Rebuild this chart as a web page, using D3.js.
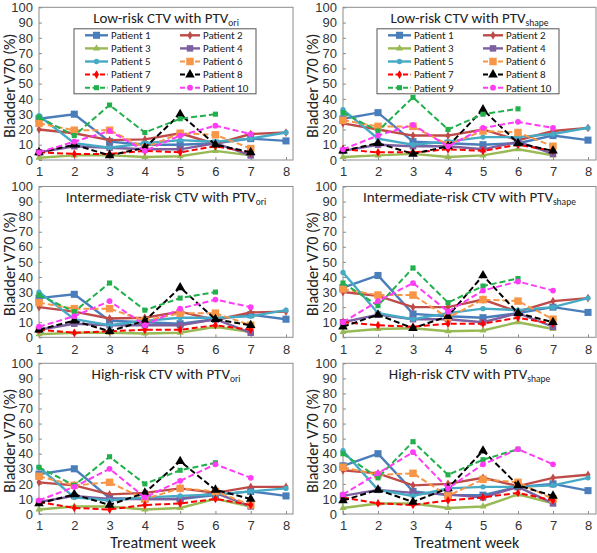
<!DOCTYPE html>
<html>
<head>
<meta charset="utf-8">
<script src="https://cdn.jsdelivr.net/npm/d3@7"></script>
<style>
  body { margin: 0; background: #fff; }
  svg { display: block; font-family: Carlito, Calibri, Lato, sans-serif; }
</style>
</head>
<body>
<svg width="597" height="553"></svg>
<script>
// weeks on the x axis
var weeks = [1, 2, 3, 4, 5, 6, 7, 8];
var patients = ['Patient 1', 'Patient 2', 'Patient 3', 'Patient 4', 'Patient 5',
  'Patient 6', 'Patient 7', 'Patient 8', 'Patient 9', 'Patient 10'];
var yTicks = [0, 10, 20, 30, 40, 50, 60, 70, 80, 90, 100];

// bladder V70 (%) per patient, one value per treatment week
var lowOri = [
  [27, 30, 12, 10, 10, 11, 14, 12.5],
  [20, 17.5, 13, 13.5, 17.5, 10.5, 17, 18],
  [1.5, 3, 3, 2, 2.5, 6, 3],
  [5, 9, 8, 7, 7, 11, 3],
  [29, 11, 8, 11, 13, 12, 14, 18],
  [24, 19.5, 19.5, 8, 17.5, 16.5, 7.5],
  [5, 4, 4, 6, 5, 9, 5],
  [5, 10, 3, 8, 30, 10, 5],
  [28, 16, 36, 18, 27, 30],
  [5, 12, 19, 6, 16, 22.5, 17]
];
var lowShape = [
  [27, 31, 12, 11, 10, 11, 16, 13],
  [24, 20, 16, 16, 20, 13, 19, 21],
  [2, 3, 4, 2, 3, 7, 3],
  [6, 10, 9, 9, 7, 12, 4],
  [33, 14, 10, 12, 15, 15, 17, 21],
  [26, 22, 22, 10, 19, 18, 9],
  [7, 5, 5, 7, 6, 10, 6],
  [6, 11, 4, 9, 33, 11, 6],
  [31, 19, 41, 20, 30, 33.5],
  [7, 16, 23, 9, 21, 25, 21]
];
var intOri = [
  [26, 28.5, 11, 10, 9, 12, 15, 12],
  [20, 17, 12.5, 13, 17, 11.5, 16.5, 17],
  [2, 3, 3, 2.5, 3, 7, 3.5],
  [5, 9, 8, 8, 8, 12, 3],
  [30, 12, 8, 11, 13, 13, 14, 18],
  [23, 19, 19, 11, 16, 16, 8],
  [5, 3, 4, 5, 5, 8, 5],
  [5, 11, 4, 11, 33, 12, 8],
  [28, 17, 36, 18, 26, 30],
  [7, 14, 24, 8, 19, 25, 20]
];
var intShape = [
  [33, 41, 15.5, 14, 13, 16, 20, 16.5],
  [30, 27.5, 20, 20, 25, 17, 24, 26],
  [3.5, 5.5, 6, 4, 4.5, 10, 5.5],
  [10, 15, 12, 12, 10, 16, 7],
  [43, 16, 12, 16, 19, 18, 20, 26],
  [32, 28, 28, 13, 25, 24, 12],
  [10, 8, 7, 9, 9, 13, 9],
  [7, 15, 6, 14, 41, 16, 10],
  [36, 21, 46, 23, 34, 39],
  [10, 24, 36, 17, 31, 37, 31]
];
var highOri = [
  [26.5, 30, 10.5, 10, 10, 12.5, 15, 12],
  [21, 19, 13, 14, 17, 14, 18, 18],
  [3, 5, 5, 3, 4, 10, 5],
  [8, 12, 10, 10, 10, 14, 5],
  [31, 11, 9, 11, 12, 13, 15, 17],
  [25, 19, 21, 10, 17, 15, 6],
  [8, 4, 3, 6, 7, 10, 6],
  [7, 13, 6, 14, 35, 16, 10],
  [31, 19, 38, 20, 29, 34],
  [9, 18, 30, 11, 22, 33, 24]
];
var highShape = [
  [32, 40, 15, 12.5, 12.5, 18, 20, 15.5],
  [29, 27, 19, 20, 24, 18.5, 24, 26],
  [4, 7, 7, 4, 5, 13, 7],
  [12, 16, 14, 13, 11, 18, 7],
  [42, 16, 12, 17, 18, 18, 19, 24],
  [31, 26, 27, 12, 23, 21, 10],
  [11, 7, 6, 9, 11, 14, 9],
  [9, 16, 8, 17, 42, 19, 12],
  [40, 24, 48, 26, 36, 43],
  [13, 27, 41, 17, 33, 43, 33]
];

var colors = ['#4a7ebb', '#be4b48', '#98b954', '#7d60a0', '#46aac5',
  '#f79646', '#ff0000', '#000000', '#21b04b', '#ff3cf5'];
var dashed = [false, false, false, false, false, true, true, true, true, true];
var shapes = [d3.symbolSquare, d3.symbolDiamond, d3.symbolTriangle, d3.symbolSquare, d3.symbolCircle,
  d3.symbolSquare, d3.symbolDiamond, d3.symbolTriangle, d3.symbolSquare, d3.symbolCircle];
var sizes = [50, 22, 22, 42, 22, 56, 22, 40, 26, 26];

var svg = d3.select('svg');

var cols = [{ left: 39, last: 286, right: 293, lab: 9 }, { left: 343, last: 588, right: 596, lab: 312 }];
var rows = [{ top: 7.3, bottom: 160 }, { top: 186.5, bottom: 337.3 }, { top: 363.3, bottom: 514 }];

var panels = [
  { data: lowOri, title: 'Low-risk CTV with PTV', sub: 'ori', c: 0, r: 0, legend: true },
  { data: lowShape, title: 'Low-risk CTV with PTV', sub: 'shape', c: 1, r: 0, legend: true },
  { data: intOri, title: 'Intermediate-risk CTV with PTV', sub: 'ori', c: 0, r: 1 },
  { data: intShape, title: 'Intermediate-risk CTV with PTV', sub: 'shape', c: 1, r: 1 },
  { data: highOri, title: 'High-risk CTV with PTV', sub: 'ori', c: 0, r: 2 },
  { data: highShape, title: 'High-risk CTV with PTV', sub: 'shape', c: 1, r: 2 }
];

panels.forEach(function (p) {
  var col = cols[p.c], row = rows[p.r];
  var x = d3.scaleLinear().domain([1, 8]).range([col.left, col.last]);
  var y = d3.scaleLinear().domain([0, 100]).range([row.bottom, row.top]);
  var g = svg.append('g');

  // frame
  g.append('rect')
    .attr('x', col.left).attr('y', row.top)
    .attr('width', col.right - col.left).attr('height', row.bottom - row.top)
    .attr('fill', 'none').attr('stroke', '#8c8c8c').attr('stroke-width', 1);

  // y axis (ticks inside)
  var ya = g.append('g').attr('transform', 'translate(' + col.left + ',0)')
    .call(d3.axisLeft(y).tickValues(yTicks).tickSizeInner(-3).tickSizeOuter(0).tickPadding(6));
  ya.select('.domain').remove();
  ya.selectAll('line').attr('stroke', '#8c8c8c');
  ya.selectAll('text').attr('font-size', 13).attr('font-family', null).attr('fill', '#333');

  // x axis
  var xa = g.append('g').attr('transform', 'translate(0,' + row.bottom + ')')
    .call(d3.axisBottom(x).tickValues(weeks).tickFormat(d3.format('d')).tickSizeInner(-3).tickSizeOuter(0).tickPadding(7));
  xa.select('.domain').remove();
  xa.selectAll('line').attr('stroke', '#8c8c8c');
  xa.selectAll('text').attr('font-size', 13).attr('font-family', null).attr('fill', '#333');

  // y label
  g.append('text')
    .attr('transform', 'translate(' + col.lab + ',' + ((row.top + row.bottom) / 2 + 2) + ') rotate(-90)')
    .attr('text-anchor', 'middle').attr('dy', '0.35em')
    .attr('font-size', 16).attr('fill', '#222')
    .text('Bladder V70 (%)');

  // title
  var t = g.append('text')
    .attr('x', (col.left + col.right) / 2).attr('y', row.top + 15.5)
    .attr('text-anchor', 'middle').attr('font-size', 15).attr('fill', '#222');
  t.append('tspan').text(p.title);
  t.append('tspan').attr('font-size', 9.5).attr('dy', 3).text(p.sub);

  // series
  var line = d3.line().x(function (d, i) { return x(weeks[i]); }).y(function (d) { return y(d); });
  p.data.forEach(function (vals, k) {
    g.append('path').datum(vals)
      .attr('d', line)
      .attr('fill', 'none')
      .attr('stroke', colors[k])
      .attr('stroke-width', dashed[k] ? 2 : 2.4)
      .attr('stroke-dasharray', dashed[k] ? '6,3' : null);
    g.selectAll(null).data(vals).enter().append('path')
      .attr('d', d3.symbol().type(shapes[k]).size(sizes[k]))
      .attr('transform', function (d, i) { return 'translate(' + x(weeks[i]) + ',' + y(d) + ')'; })
      .attr('fill', colors[k]);
  });

  // legend
  if (p.legend) {
    var lx = col.left + (p.c === 0 ? 35 : 34), ly = row.top + 21.5;
    g.append('rect').attr('x', lx).attr('y', ly).attr('width', 182).attr('height', 65)
      .attr('fill', '#fff').attr('stroke', '#555').attr('stroke-width', 1);
    patients.forEach(function (name, k) {
      var cx = lx + (k % 2 === 0 ? 11 : 106), cy = ly + 6.5 + Math.floor(k / 2) * 13.1;
      var w = k % 2 === 0 ? 23 : 20;
      g.append('line').attr('x1', cx).attr('x2', cx + w).attr('y1', cy).attr('y2', cy)
        .attr('stroke', colors[k]).attr('stroke-width', dashed[k] ? 2 : 2.4)
        .attr('stroke-dasharray', dashed[k] ? '5,2.5' : null);
      g.append('path').attr('d', d3.symbol().type(shapes[k]).size(sizes[k]))
        .attr('transform', 'translate(' + (cx + w / 2) + ',' + cy + ')')
        .attr('fill', colors[k]);
      g.append('text').attr('x', cx + w + 3).attr('y', cy).attr('dy', '0.35em')
        .attr('font-size', 11).attr('fill', '#222').text(name);
    });
  }

  if (p.r === 2) {
    g.append('text')
      .attr('x', (col.left + col.right) / 2 - 3).attr('y', 548)
      .attr('text-anchor', 'middle').attr('font-size', 16).attr('fill', '#222')
      .text('Treatment week');
  }
});
</script>
</body>
</html>
